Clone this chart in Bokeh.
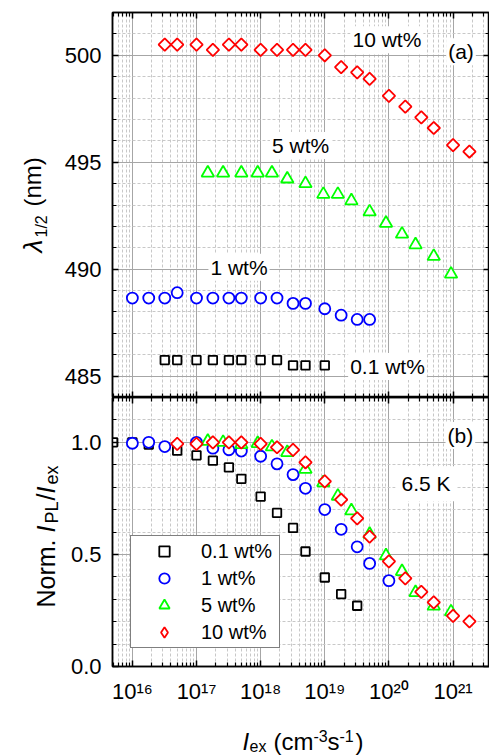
import numpy as np
from bokeh.plotting import figure
from bokeh.models import (Range1d, LogAxis, LinearAxis, LogScale, FixedTicker, Grid, Label,
                          Legend, LegendItem, CustomJSTickFormatter, PrintfTickFormatter)
from bokeh.core.properties import value
from bokeh.layouts import column, row
from bokeh.embed import file_html
from bokeh.resources import INLINE

# ---------------- data ----------------
# panel (a): lambda_1/2 (nm) vs I_ex
x01_a = [3.2e16, 5e16, 1e17, 1.8e17, 3.2e17, 5e17, 1e18, 1.8e18, 3.2e18, 5e18, 1e19]
lam01 = [485.75, 485.75, 485.75, 485.75, 485.75, 485.75, 485.75, 485.75, 485.5, 485.5, 485.5]

x1_a = [1e16, 1.8e16, 3.2e16, 5e16, 1e17, 1.8e17, 3.2e17, 5e17, 1e18, 1.8e18, 3.2e18, 5e18,
        1e19, 1.8e19, 3.2e19, 5e19]
lam1 = [488.65, 488.65, 488.65, 488.9, 488.65, 488.65, 488.65, 488.65, 488.65, 488.65, 488.4,
        488.4, 488.15, 487.85, 487.65, 487.65]

x5_a = [1.5e17, 2.6e17, 5e17, 9e17, 1.5e18, 2.6e18, 5e18, 9.5e18, 1.6e19, 2.6e19, 5e19, 9e19,
        1.6e20, 2.6e20, 5e20, 9.3e20]
lam5 = [494.5, 494.5, 494.5, 494.5, 494.5, 494.22, 494.0, 493.5, 493.5, 493.2, 492.68, 492.15,
        491.64, 491.14, 490.6, 489.77]

x10_a = [3.2e16, 5e16, 1e17, 1.8e17, 3.2e17, 5e17, 1e18, 1.8e18, 3.2e18, 5e18, 1e19, 1.8e19,
         3.2e19, 5e19, 1e20, 1.8e20, 3.2e20, 5e20, 1e21, 1.8e21]
lam10 = [500.5, 500.5, 500.5, 500.25, 500.5, 500.5, 500.25, 500.25, 500.25, 500.25, 500.0,
         499.45, 499.2, 498.9, 498.1, 497.6, 497.1, 496.6, 495.8, 495.5]

# panel (b): normalised I_PL / I_ex vs I_ex
x01_b = [5e15, 1e16, 1.8e16, 5e16, 1e17, 1.8e17, 3.2e17, 5e17, 1e18, 1.8e18, 3.2e18, 5e18,
         1e19, 1.8e19, 3.2e19]
n01 = [1.0, 1.0, 0.99, 0.963, 0.942, 0.918, 0.888, 0.837, 0.758, 0.685, 0.618, 0.513,
       0.397, 0.323, 0.271]

x1_b = [1e16, 1.8e16, 3.2e16, 1e17, 1.8e17, 3.2e17, 5e17, 1e18, 1.8e18, 3.2e18, 5e18, 1e19,
        1.8e19, 3.2e19, 5e19, 1e20]
n1 = [0.996, 1.0, 0.981, 1.0, 0.974, 0.967, 0.961, 0.938, 0.904, 0.856, 0.795, 0.70,
      0.612, 0.534, 0.46, 0.383]

x5_b = [1.5e17, 2.6e17, 5e17, 9e17, 1.5e18, 2.6e18, 5e18, 9.5e18, 1.6e19, 2.6e19, 5e19, 9e19,
        1.6e20, 2.6e20, 5e20, 9.3e20]
n5 = [1.005, 1.0, 0.99, 0.995, 0.98, 0.955, 0.88, 0.82, 0.76, 0.695, 0.59, 0.494,
      0.424, 0.33, 0.27, 0.244]

x10_b = [5e16, 1e17, 1.8e17, 3.2e17, 5e17, 1e18, 1.8e18, 3.2e18, 5e18, 1e19, 1.8e19, 3.2e19,
         5e19, 1e20, 1.8e20, 3.2e20, 5e20, 1e21, 1.8e21]
n10 = [0.993, 0.993, 1.0, 1.0, 1.0, 0.993, 0.978, 0.966, 0.911, 0.826, 0.744, 0.661,
       0.579, 0.469, 0.393, 0.333, 0.286, 0.226, 0.201]

series_names = ["0.1 wt%", "1 wt%", "5 wt%", "10 wt%"]

x_ticks = [1e15, 1e16, 1e17, 1e18, 1e19, 1e20, 1e21, 1e22]
x_minor = [m * 10.0 ** e for e in range(15, 22) for m in range(2, 10)]
ya_ticks = [485, 490, 495, 500]
ya_minor = list(range(484, 503))
yb_ticks = [0.0, 0.5, 1.0]
yb_minor = [round(0.1 * i, 1) for i in range(0, 13)]

# ---------------- styling ----------------
FONT = "Liberation Sans"
COLORS = ["#000000", "#0000ff", "#00ff00", "#ff0000"]

xr = Range1d(4.9e15, 3.7e21)
xticker = FixedTicker(ticks=x_ticks, minor_ticks=x_minor)

sup_fmt = CustomJSTickFormatter(code="""
const sup = {"0":"\u2070","1":"\u00b9","2":"\u00b2","3":"\u00b3","4":"\u2074","5":"\u2075",
             "6":"\u2076","7":"\u2077","8":"\u2078","9":"\u2079","-":"\u207b"};
const e = Math.round(Math.log10(tick));
return "10" + String(e).split("").map(c => sup[c]).join("");
""")
blank_fmt = CustomJSTickFormatter(code="return ' ';")


def make_fig(height, yr, btop, bbottom):
    p = figure(width=429, height=height, x_range=xr, y_range=yr,
               x_axis_type=None, y_axis_type=None,
               toolbar_location=None, output_backend="svg",
               min_border_left=52, min_border_right=0,
               min_border_top=btop, min_border_bottom=bbottom)
    p.x_scale = LogScale()
    p.outline_line_color = "black"
    p.outline_line_width = 1.5
    p.background_fill_color = "white"
    p.border_fill_color = "white"
    return p


def make_strip(width, height):
    p = figure(width=width, height=height, x_range=Range1d(0, width), y_range=Range1d(0, height),
               x_axis_type=None, y_axis_type=None, toolbar_location=None, output_backend="svg",
               min_border=0, min_border_left=0, min_border_right=0, min_border_top=0,
               min_border_bottom=0)
    p.outline_line_color = None
    p.background_fill_color = "white"
    p.border_fill_color = "white"
    return p


def add_axis(p, cls, place, ticker, formatter=None, labels=False, standoff=10):
    ax = cls(ticker=ticker)
    ax.axis_line_color = "black"
    ax.axis_line_width = 1.5
    ax.major_tick_in = 6
    ax.major_tick_out = 0
    ax.major_tick_line_color = "black"
    ax.major_tick_line_width = 1.5
    ax.minor_tick_in = 4
    ax.minor_tick_out = 0
    ax.minor_tick_line_color = "black"
    ax.minor_tick_line_width = 1.2
    if labels:
        if formatter is not None:
            ax.formatter = formatter
        ax.major_label_text_font = FONT
        ax.major_label_text_font_size = "22px"
        ax.major_label_text_color = "black"
        ax.major_label_standoff = standoff
    else:
        ax.formatter = blank_fmt
        ax.major_label_text_font_size = "1px"
        ax.major_label_text_color = None
        ax.major_label_standoff = 0
    p.add_layout(ax, place)
    return ax


def add_grids(p, yticker):
    common = dict(grid_line_color="#a6a6a6", grid_line_width=1,
                  minor_grid_line_color="#c8c8c8", minor_grid_line_width=1,
                  minor_grid_line_dash="3 2")
    p.add_layout(Grid(dimension=0, ticker=xticker, **common))
    p.add_layout(Grid(dimension=1, ticker=yticker, **common))


def plot_series(p, xs, ys, k):
    kw = dict(line_color=COLORS[k], fill_color="white", line_width=1.8)
    if k == 0:
        return p.scatter(xs, ys, marker="square", size=8.5, **kw)
    if k == 1:
        return p.scatter(xs, ys, marker="circle", size=11, **kw)
    if k == 2:
        return p.scatter(xs, ys, marker="triangle", size=12.5, **kw)
    # a plain diamond lies hidden under each rotated square; it is the legend's symbol
    under = p.scatter(xs, ys, marker="diamond", size=10, **kw)
    p.scatter(xs, ys, marker="square", angle=np.pi / 4, size=8.8, **kw)
    return under


def dlabel(p, x, y, text, pad=2):
    p.add_layout(Label(x=x, y=y, text=text, text_align="center", text_baseline="middle",
                       text_font=FONT, text_font_size="21px", text_color="black",
                       background_fill_color="white", padding=pad))


def stext(p, x, y, txt, size, italic=False, angle=0.0):
    p.text(x=[x], y=[y], text=[txt], angle=angle,
           text_font=value(FONT), text_font_size=value(size),
           text_font_style=value("italic" if italic else "normal"),
           text_align="left", text_baseline="alphabetic", text_color="black")


# ---------------- panel (a) ----------------
pa = make_fig(397, Range1d(484, 502), 12, 0)
ya_ticker = FixedTicker(ticks=ya_ticks, minor_ticks=ya_minor)
add_grids(pa, ya_ticker)
add_axis(pa, LinearAxis, "left", ya_ticker, labels=True, standoff=11)
add_axis(pa, LinearAxis, "right", ya_ticker)
add_axis(pa, LogAxis, "above", xticker)
add_axis(pa, LogAxis, "below", xticker)

for k, (xs, ys) in enumerate([(x01_a, lam01), (x1_a, lam1), (x5_a, lam5), (x10_a, lam10)]):
    plot_series(pa, xs, ys, k)

dlabel(pa, 9.3e19, 500.73, "10 wt%")
dlabel(pa, 1.33e21, 500.17, "(a)")
dlabel(pa, 4.2e18, 495.78, "5 wt%")
dlabel(pa, 4.6e17, 490.09, "1 wt%")
dlabel(pa, 9.5e19, 485.45, "0.1 wt%")

# ---------------- panel (b) ----------------
pb = make_fig(313, Range1d(0, 1.2), 0, 44)
yb_ticker = FixedTicker(ticks=yb_ticks, minor_ticks=yb_minor)
add_grids(pb, yb_ticker)
add_axis(pb, LinearAxis, "left", yb_ticker, formatter=PrintfTickFormatter(format="%.1f"),
         labels=True, standoff=11)
add_axis(pb, LinearAxis, "right", yb_ticker)
add_axis(pb, LogAxis, "above", xticker)
add_axis(pb, LogAxis, "below", xticker, formatter=sup_fmt, labels=True, standoff=12)

rends = []
for k, (xs, ys) in enumerate([(x01_b, n01), (x1_b, n1), (x5_b, n5), (x10_b, n10)]):
    rends.append(plot_series(pb, xs, ys, k))

legend = Legend(items=[LegendItem(label=series_names[k], renderers=[rends[k]]) for k in range(4)],
                location=(18, 18), margin=0, padding=2, spacing=1,
                glyph_width=62, glyph_height=26, label_standoff=6, label_width=76,
                label_height=26,
                label_text_font=FONT, label_text_font_size="20px", label_text_color="black",
                border_line_color="black", border_line_width=1,
                background_fill_color="white", background_fill_alpha=1.0)
pb.add_layout(legend)

dlabel(pb, 1.3e21, 1.03, "(b)")
dlabel(pb, 3.8e20, 0.815, "6.5 K", pad=6)

# ---------------- axis titles (real text, in side strips) ----------------
A = np.pi / 2
ys = make_strip(60, 710)
# lambda_{1/2} (nm)   (strip y measured upward from page y = 710)
stext(ys, 32, 458, "\u03bb", "26px", italic=True, angle=A)
stext(ys, 41, 473, "1/2", "16px", angle=A)
stext(ys, 32, 504, "(nm)", "24px", angle=A)
# Norm. I_PL / I_ex
stext(ys, 45, 103, "Norm.", "25px", angle=A)
stext(ys, 45, 178, "I", "25px", italic=True, angle=A)
stext(ys, 51, 187, "PL", "18px", angle=A)
stext(ys, 45, 210, "/", "25px", angle=A)
stext(ys, 45, 217, "I", "25px", italic=True, angle=A)
stext(ys, 51, 226, "ex", "18px", angle=A)

xs_strip = make_strip(489, 45)
# I_ex (cm^-3 s^-1)   (strip y measured upward from page y = 755)
stext(xs_strip, 242, 14, "I", "24px", italic=True)
stext(xs_strip, 249, 9, "ex", "16px")
stext(xs_strip, 273, 14, "(cm", "24px")
stext(xs_strip, 313, 20, "-3", "16px")
stext(xs_strip, 327, 14, "s", "24px")
stext(xs_strip, 339, 20, "-1", "16px")
stext(xs_strip, 355, 14, ")", "24px")

layout = column(row(ys, column(pa, pb, spacing=0), spacing=0), xs_strip, spacing=0)
open("out.html", "w").write(file_html(layout, INLINE))
